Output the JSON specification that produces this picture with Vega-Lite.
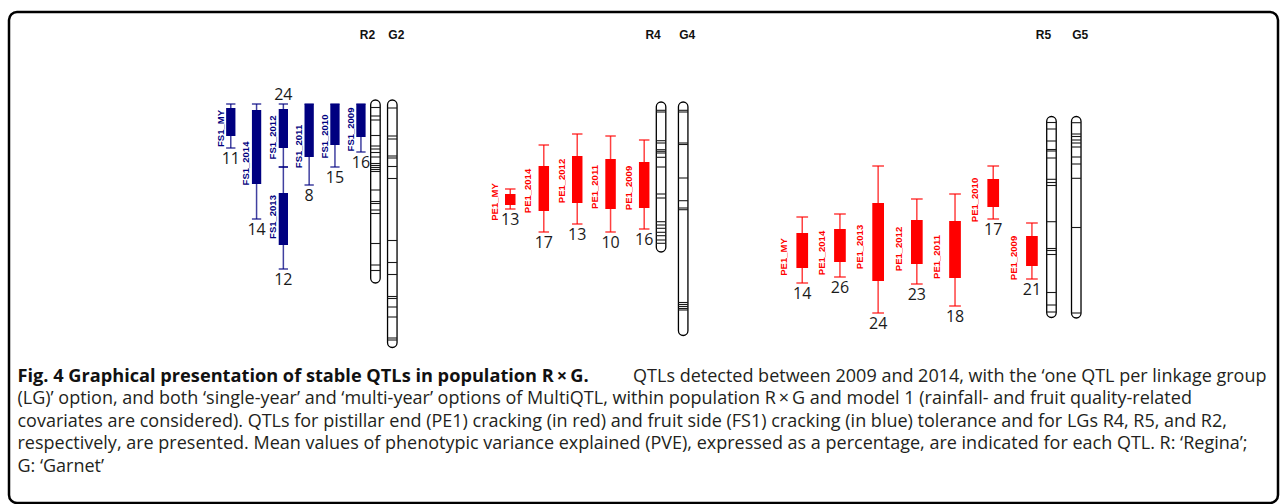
{
  "$schema": "https://vega.github.io/schema/vega-lite/v6.json",
  "width": 1281,
  "height": 504,
  "autosize": {"type": "fit", "contains": "padding"},
  "padding": {"left": 9, "top": 12, "right": 3, "bottom": 1},
  "background": "white",
  "config": {
    "view": {"stroke": "black", "strokeWidth": 2.5, "cornerRadius": 8},
    "axis": {"disable": true}
  },
  "datasets": {
    "qtl": [
      {"name": "FS1_MY", "trait": "FS1", "lg": "R2", "x": 227.5, "lod1_lo": 4, "lod1_hi": 18, "lod2_lo": 2, "lod2_hi": 24, "peak": 14.25, "pve": "11", "side": "bottom"},
      {"name": "FS1_2014", "trait": "FS1", "lg": "R2", "x": 253.5, "lod1_lo": 5, "lod1_hi": 42, "lod2_lo": 2, "lod2_hi": 59.5, "peak": 31.75, "pve": "14", "side": "bottom"},
      {"name": "FS1_2012", "trait": "FS1", "lg": "R2", "x": 280.5, "lod1_lo": 4.5, "lod1_hi": 24, "lod2_lo": 2, "lod2_hi": 33.5, "peak": 18.75, "pve": "24", "side": "top"},
      {"name": "FS1_2013", "trait": "FS1", "lg": "R2", "x": 280.5, "lod1_lo": 46.5, "lod1_hi": 72.5, "lod2_lo": 33.5, "lod2_hi": 84.5, "peak": 58.5, "pve": "12", "side": "bottom"},
      {"name": "FS1_2011", "trait": "FS1", "lg": "R2", "x": 306.5, "lod1_lo": 2, "lod1_hi": 28.5, "lod2_lo": 2, "lod2_hi": 42.5, "peak": 23.25, "pve": "8", "side": "bottom"},
      {"name": "FS1_2010", "trait": "FS1", "lg": "R2", "x": 332.5, "lod1_lo": 2, "lod1_hi": 22.5, "lod2_lo": 2, "lod2_hi": 33.5, "peak": 18.25, "pve": "15", "side": "bottom"},
      {"name": "FS1_2009", "trait": "FS1", "lg": "R2", "x": 358.7, "lod1_lo": 2, "lod1_hi": 18.5, "lod2_lo": 2, "lod2_hi": 26, "peak": 14.75, "pve": "16", "side": "bottom"},
      {"name": "PE1_MY", "trait": "PE1", "lg": "R4", "x": 509.2, "lod1_lo": 47, "lod1_hi": 52.5, "lod2_lo": 44.5, "lod2_hi": 54.5, "peak": 51, "pve": "13", "side": "bottom"},
      {"name": "PE1_2014", "trait": "PE1", "lg": "R4", "x": 543, "lod1_lo": 33, "lod1_hi": 55.5, "lod2_lo": 22.5, "lod2_hi": 66, "peak": 45.5, "pve": "17", "side": "bottom"},
      {"name": "PE1_2012", "trait": "PE1", "lg": "R4", "x": 576.7, "lod1_lo": 28, "lod1_hi": 51.5, "lod2_lo": 17, "lod2_hi": 62, "peak": 40.5, "pve": "13", "side": "bottom"},
      {"name": "PE1_2011", "trait": "PE1", "lg": "R4", "x": 610.3, "lod1_lo": 29.5, "lod1_hi": 54.5, "lod2_lo": 18, "lod2_hi": 66, "peak": 43.5, "pve": "10", "side": "bottom"},
      {"name": "PE1_2009", "trait": "PE1", "lg": "R4", "x": 644.2, "lod1_lo": 31, "lod1_hi": 54, "lod2_lo": 20, "lod2_hi": 64.5, "peak": 44, "pve": "16", "side": "bottom"},
      {"name": "PE1_MY", "trait": "PE1", "lg": "R5", "x": 803.5, "lod1_lo": 66.5, "lod1_hi": 84, "lod2_lo": 58.5, "lod2_hi": 91.5, "peak": 78.5, "pve": "14", "side": "bottom"},
      {"name": "PE1_2014", "trait": "PE1", "lg": "R5", "x": 841.5, "lod1_lo": 64.5, "lod1_hi": 81, "lod2_lo": 57, "lod2_hi": 88.5, "peak": 76.5, "pve": "26", "side": "bottom"},
      {"name": "PE1_2013", "trait": "PE1", "lg": "R5", "x": 880, "lod1_lo": 51.5, "lod1_hi": 90.5, "lod2_lo": 33, "lod2_hi": 106.5, "peak": 73.5, "pve": "24", "side": "bottom"},
      {"name": "PE1_2012", "trait": "PE1", "lg": "R5", "x": 919, "lod1_lo": 60, "lod1_hi": 82, "lod2_lo": 49.5, "lod2_hi": 92, "peak": 74.5, "pve": "23", "side": "bottom"},
      {"name": "PE1_2011", "trait": "PE1", "lg": "R5", "x": 957.5, "lod1_lo": 60.5, "lod1_hi": 89, "lod2_lo": 47, "lod2_hi": 103, "peak": 78.5, "pve": "18", "side": "bottom"},
      {"name": "PE1_2010", "trait": "PE1", "lg": "R5", "x": 996, "lod1_lo": 39.5, "lod1_hi": 53.5, "lod2_lo": 33, "lod2_hi": 59.5, "peak": 50, "pve": "17", "side": "bottom"},
      {"name": "PE1_2009", "trait": "PE1", "lg": "R5", "x": 1035, "lod1_lo": 68, "lod1_hi": 83, "lod2_lo": 61.5, "lod2_hi": 89.5, "peak": 79, "pve": "21", "side": "bottom"}
    ],
    "chrom": [
      {"chr": "R2", "parent": "R", "x": 373.3, "top": 0, "bottom": 91.5},
      {"chr": "G2", "parent": "G", "x": 390.3, "top": 0, "bottom": 123.75},
      {"chr": "R4", "parent": "R", "x": 661.2, "top": 1, "bottom": 76},
      {"chr": "G4", "parent": "G", "x": 683.5, "top": 1, "bottom": 117.75},
      {"chr": "R5", "parent": "R", "x": 1054.7, "top": 8.25, "bottom": 108.75},
      {"chr": "G5", "parent": "G", "x": 1079.7, "top": 8.25, "bottom": 109}
    ],
    "bands": [
      {"chr": "R2", "cM": 3.75}, {"chr": "R2", "cM": 8}, {"chr": "R2", "cM": 10}, {"chr": "R2", "cM": 17.75},
      {"chr": "R2", "cM": 23}, {"chr": "R2", "cM": 24.5}, {"chr": "R2", "cM": 26.25}, {"chr": "R2", "cM": 28.5},
      {"chr": "R2", "cM": 31.75}, {"chr": "R2", "cM": 32.75}, {"chr": "R2", "cM": 33.75}, {"chr": "R2", "cM": 34.75},
      {"chr": "R2", "cM": 35.75}, {"chr": "R2", "cM": 45}, {"chr": "R2", "cM": 50.75}, {"chr": "R2", "cM": 51.75},
      {"chr": "R2", "cM": 55}, {"chr": "R2", "cM": 56.75}, {"chr": "R2", "cM": 71.75}, {"chr": "R2", "cM": 82.5},
      {"chr": "R2", "cM": 85.25},
      {"chr": "G2", "cM": 4}, {"chr": "G2", "cM": 18}, {"chr": "G2", "cM": 19.5}, {"chr": "G2", "cM": 28},
      {"chr": "G2", "cM": 29}, {"chr": "G2", "cM": 33.25}, {"chr": "G2", "cM": 39.25}, {"chr": "G2", "cM": 70.25},
      {"chr": "G2", "cM": 81.25}, {"chr": "G2", "cM": 87.25}, {"chr": "G2", "cM": 98.25}, {"chr": "G2", "cM": 99.25},
      {"chr": "G2", "cM": 103.5}, {"chr": "G2", "cM": 108.5}, {"chr": "G2", "cM": 119}, {"chr": "G2", "cM": 120},
      {"chr": "R4", "cM": 5.15}, {"chr": "R4", "cM": 6}, {"chr": "R4", "cM": 20.35}, {"chr": "R4", "cM": 21.5},
      {"chr": "R4", "cM": 24.85}, {"chr": "R4", "cM": 25.65}, {"chr": "R4", "cM": 26.5}, {"chr": "R4", "cM": 28.65},
      {"chr": "R4", "cM": 33.5}, {"chr": "R4", "cM": 47}, {"chr": "R4", "cM": 49}, {"chr": "R4", "cM": 60.85},
      {"chr": "R4", "cM": 62.5}, {"chr": "R4", "cM": 64.15}, {"chr": "R4", "cM": 66.15}, {"chr": "R4", "cM": 67.85},
      {"chr": "R4", "cM": 70}, {"chr": "R4", "cM": 71.65},
      {"chr": "G4", "cM": 5.15}, {"chr": "G4", "cM": 6}, {"chr": "G4", "cM": 21.5}, {"chr": "G4", "cM": 22.25},
      {"chr": "G4", "cM": 39}, {"chr": "G4", "cM": 50.35}, {"chr": "G4", "cM": 54}, {"chr": "G4", "cM": 54.85},
      {"chr": "G4", "cM": 101.25}, {"chr": "G4", "cM": 102.25}, {"chr": "G4", "cM": 103.25}, {"chr": "G4", "cM": 104.25},
      {"chr": "G4", "cM": 105},
      {"chr": "R5", "cM": 11.25}, {"chr": "R5", "cM": 14.5}, {"chr": "R5", "cM": 20.5}, {"chr": "R5", "cM": 24.75},
      {"chr": "R5", "cM": 25.5}, {"chr": "R5", "cM": 29}, {"chr": "R5", "cM": 39.65}, {"chr": "R5", "cM": 41.25},
      {"chr": "R5", "cM": 42.75}, {"chr": "R5", "cM": 60.85}, {"chr": "R5", "cM": 74.25}, {"chr": "R5", "cM": 75.25},
      {"chr": "R5", "cM": 77.25}, {"chr": "R5", "cM": 96.25}, {"chr": "R5", "cM": 102.5}, {"chr": "R5", "cM": 106},
      {"chr": "G5", "cM": 11.35}, {"chr": "G5", "cM": 17}, {"chr": "G5", "cM": 18.25}, {"chr": "G5", "cM": 20},
      {"chr": "G5", "cM": 21.5}, {"chr": "G5", "cM": 23.5}, {"chr": "G5", "cM": 28.5}, {"chr": "G5", "cM": 32},
      {"chr": "G5", "cM": 39.15}, {"chr": "G5", "cM": 63.75}, {"chr": "G5", "cM": 106.5}
    ],
    "caption": [
      {"line": 1, "x": 12.5, "bold": true, "text": "Fig. 4 Graphical presentation of stable QTLs in population R\u2009×\u2009G."},
      {"line": 1, "x": 633, "bold": false, "text": "QTLs detected between 2009 and 2014, with the ‘one QTL per linkage group"},
      {"line": 2, "x": 12.5, "bold": false, "text": "(LG)’ option, and both ‘single-year’ and ‘multi-year’ options of MultiQTL, within population R\u2009×\u2009G and model 1 (rainfall- and fruit quality-related"},
      {"line": 3, "x": 12.5, "bold": false, "text": "covariates are considered). QTLs for pistillar end (PE1) cracking (in red) and fruit side (FS1) cracking (in blue) tolerance and for LGs R4, R5, and R2,"},
      {"line": 4, "x": 12.5, "bold": false, "text": "respectively, are presented. Mean values of phenotypic variance explained (PVE), expressed as a percentage, are indicated for each QTL. R: ‘Regina’;"},
      {"line": 5, "x": 12.5, "bold": false, "text": "G: ‘Garnet’"}
    ]
  },
  "resolve": {"scale": {"y": "independent"}},
  "layer": [
    {
      "resolve": {"scale": {"size": "independent"}},
      "layer": [
        {
          "data": {"name": "chrom"},
          "mark": {"type": "bar", "fill": "white", "stroke": "black", "strokeWidth": 1.3, "cornerRadius": 6.5},
          "encoding": {
            "x": {"field": "x", "type": "quantitative", "scale": {"domain": [9, 1278], "nice": false, "zero": false}, "axis": null},
            "y": {"field": "top", "type": "quantitative", "scale": {"domain": [-44, 201.5], "reverse": true, "nice": false, "zero": false}, "axis": null},
            "y2": {"field": "bottom"},
            "size": {"field": "chr", "type": "ordinal", "scale": {"domain": ["R2", "G2", "R4", "G4", "R5", "G5"], "range": [9.5, 9.5, 11.5, 11.5, 12.5, 12.5]}, "legend": null}
          }
        },
        {
          "data": {"name": "bands"},
          "transform": [{"lookup": "chr", "from": {"data": {"name": "chrom"}, "key": "chr", "fields": ["x"]}}],
          "mark": {"type": "tick", "orient": "horizontal", "thickness": 1.1, "color": "#1a1a1a", "opacity": 1},
          "encoding": {
            "x": {"field": "x", "type": "quantitative", "scale": {"domain": [9, 1278], "nice": false, "zero": false}, "axis": null},
            "y": {"field": "cM", "type": "quantitative", "scale": {"domain": [-44, 201.5], "reverse": true, "nice": false, "zero": false}, "axis": null},
            "size": {"field": "chr", "type": "ordinal", "scale": {"domain": ["R2", "G2", "R4", "G4", "R5", "G5"], "range": [9.5, 9.5, 11.5, 11.5, 12.5, 12.5]}, "legend": null}
          }
        },
        {
          "data": {"name": "qtl"},
          "mark": {"type": "rule", "strokeWidth": 1.5, "opacity": 0.75},
          "encoding": {
            "x": {"field": "x", "type": "quantitative", "scale": {"domain": [9, 1278], "nice": false, "zero": false}, "axis": null},
            "y": {"field": "lod2_lo", "type": "quantitative", "scale": {"domain": [-44, 201.5], "reverse": true, "nice": false, "zero": false}, "axis": null},
            "y2": {"field": "lod2_hi"},
            "color": {"field": "trait", "type": "nominal", "scale": {"domain": ["FS1", "PE1"], "range": ["#000080", "#ff0000"]}, "legend": null}
          }
        },
        {
          "data": {"name": "qtl"},
          "mark": {"type": "tick", "orient": "horizontal", "thickness": 1.5, "opacity": 0.75},
          "encoding": {
            "x": {"field": "x", "type": "quantitative", "scale": {"domain": [9, 1278], "nice": false, "zero": false}, "axis": null},
            "y": {"field": "lod2_lo", "type": "quantitative", "scale": {"domain": [-44, 201.5], "reverse": true, "nice": false, "zero": false}, "axis": null},
            "size": {"field": "lg", "type": "ordinal", "scale": {"domain": ["R2", "R4", "R5"], "range": [9.3, 11.7, 13.3]}, "legend": null},
            "color": {"field": "trait", "type": "nominal", "scale": {"domain": ["FS1", "PE1"], "range": ["#000080", "#ff0000"]}, "legend": null}
          }
        },
        {
          "data": {"name": "qtl"},
          "mark": {"type": "tick", "orient": "horizontal", "thickness": 1.5, "opacity": 0.75},
          "encoding": {
            "x": {"field": "x", "type": "quantitative", "scale": {"domain": [9, 1278], "nice": false, "zero": false}, "axis": null},
            "y": {"field": "lod2_hi", "type": "quantitative", "scale": {"domain": [-44, 201.5], "reverse": true, "nice": false, "zero": false}, "axis": null},
            "size": {"field": "lg", "type": "ordinal", "scale": {"domain": ["R2", "R4", "R5"], "range": [9.3, 11.7, 13.3]}, "legend": null},
            "color": {"field": "trait", "type": "nominal", "scale": {"domain": ["FS1", "PE1"], "range": ["#000080", "#ff0000"]}, "legend": null}
          }
        },
        {
          "data": {"name": "qtl"},
          "mark": {"type": "bar", "opacity": 1},
          "encoding": {
            "x": {"field": "x", "type": "quantitative", "scale": {"domain": [9, 1278], "nice": false, "zero": false}, "axis": null},
            "y": {"field": "lod1_lo", "type": "quantitative", "scale": {"domain": [-44, 201.5], "reverse": true, "nice": false, "zero": false}, "axis": null},
            "y2": {"field": "lod1_hi"},
            "size": {"field": "lg", "type": "ordinal", "scale": {"domain": ["R2", "R4", "R5"], "range": [9.3, 11.7, 13.3]}, "legend": null},
            "color": {"field": "trait", "type": "nominal", "scale": {"domain": ["FS1", "PE1"], "range": ["#000080", "#ff0000"]}, "legend": null}
          }
        },
        {
          "data": {"name": "qtl"},
          "transform": [{"filter": "datum.lg === 'R2'"}],
          "mark": {"type": "text", "angle": 270, "align": "center", "baseline": "alphabetic", "dy": -7.1, "font": "Liberation Sans", "fontWeight": "bold", "fontSize": 9.5},
          "encoding": {
            "x": {"field": "x", "type": "quantitative", "scale": {"domain": [9, 1278], "nice": false, "zero": false}, "axis": null},
            "y": {"field": "peak", "type": "quantitative", "scale": {"domain": [-44, 201.5], "reverse": true, "nice": false, "zero": false}, "axis": null},
            "text": {"field": "name"},
            "color": {"field": "trait", "type": "nominal", "scale": {"domain": ["FS1", "PE1"], "range": ["#000080", "#ff0000"]}, "legend": null}
          }
        },
        {
          "data": {"name": "qtl"},
          "transform": [{"filter": "datum.lg === 'R4'"}],
          "mark": {"type": "text", "angle": 270, "align": "center", "baseline": "alphabetic", "dy": -12.6, "font": "Liberation Sans", "fontWeight": "bold", "fontSize": 9.5},
          "encoding": {
            "x": {"field": "x", "type": "quantitative", "scale": {"domain": [9, 1278], "nice": false, "zero": false}, "axis": null},
            "y": {"field": "peak", "type": "quantitative", "scale": {"domain": [-44, 201.5], "reverse": true, "nice": false, "zero": false}, "axis": null},
            "text": {"field": "name"},
            "color": {"field": "trait", "type": "nominal", "scale": {"domain": ["FS1", "PE1"], "range": ["#000080", "#ff0000"]}, "legend": null}
          }
        },
        {
          "data": {"name": "qtl"},
          "transform": [{"filter": "datum.lg === 'R5'"}],
          "mark": {"type": "text", "angle": 270, "align": "center", "baseline": "alphabetic", "dy": -15.1, "font": "Liberation Sans", "fontWeight": "bold", "fontSize": 9.5},
          "encoding": {
            "x": {"field": "x", "type": "quantitative", "scale": {"domain": [9, 1278], "nice": false, "zero": false}, "axis": null},
            "y": {"field": "peak", "type": "quantitative", "scale": {"domain": [-44, 201.5], "reverse": true, "nice": false, "zero": false}, "axis": null},
            "text": {"field": "name"},
            "color": {"field": "trait", "type": "nominal", "scale": {"domain": ["FS1", "PE1"], "range": ["#000080", "#ff0000"]}, "legend": null}
          }
        },
        {
          "data": {"name": "qtl"},
          "transform": [{"filter": "datum.side === 'bottom'"}],
          "mark": {"type": "text", "align": "center", "baseline": "middle", "dy": 11, "font": "Open Sans", "fontSize": 16, "color": "#1a1a1a"},
          "encoding": {
            "x": {"field": "x", "type": "quantitative", "scale": {"domain": [9, 1278], "nice": false, "zero": false}, "axis": null},
            "y": {"field": "lod2_hi", "type": "quantitative", "scale": {"domain": [-44, 201.5], "reverse": true, "nice": false, "zero": false}, "axis": null},
            "text": {"field": "pve"}
          }
        },
        {
          "data": {"name": "qtl"},
          "transform": [{"filter": "datum.side === 'top'"}],
          "mark": {"type": "text", "align": "center", "baseline": "middle", "dy": -9, "font": "Open Sans", "fontSize": 16, "color": "#1a1a1a"},
          "encoding": {
            "x": {"field": "x", "type": "quantitative", "scale": {"domain": [9, 1278], "nice": false, "zero": false}, "axis": null},
            "y": {"field": "lod2_lo", "type": "quantitative", "scale": {"domain": [-44, 201.5], "reverse": true, "nice": false, "zero": false}, "axis": null},
            "text": {"field": "pve"}
          }
        },
        {
          "data": {"name": "chrom"},
          "transform": [{"filter": "datum.parent === 'R'"}],
          "mark": {"type": "text", "align": "center", "baseline": "middle", "dx": -8, "font": "Liberation Sans", "fontWeight": "bold", "fontSize": 12, "color": "#111111"},
          "encoding": {
            "x": {"field": "x", "type": "quantitative", "scale": {"domain": [9, 1278], "nice": false, "zero": false}, "axis": null},
            "y": {"datum": -32.5, "type": "quantitative", "scale": {"domain": [-44, 201.5], "reverse": true, "nice": false, "zero": false}, "axis": null},
            "text": {"field": "chr"}
          }
        },
        {
          "data": {"name": "chrom"},
          "transform": [{"filter": "datum.parent === 'G'"}],
          "mark": {"type": "text", "align": "center", "baseline": "middle", "dx": 4, "font": "Liberation Sans", "fontWeight": "bold", "fontSize": 12, "color": "#111111"},
          "encoding": {
            "x": {"field": "x", "type": "quantitative", "scale": {"domain": [9, 1278], "nice": false, "zero": false}, "axis": null},
            "y": {"datum": -32.5, "type": "quantitative", "scale": {"domain": [-44, 201.5], "reverse": true, "nice": false, "zero": false}, "axis": null},
            "text": {"field": "chr"}
          }
        }
      ]
    },
    {
      "data": {"name": "caption"},
      "layer": [
        {
          "transform": [{"filter": "datum.bold"}],
          "mark": {"type": "text", "align": "left", "baseline": "middle", "font": "Open Sans", "fontWeight": "bold", "fontSize": 18.2, "color": "#111111"},
          "encoding": {
            "x": {"field": "x", "type": "quantitative", "scale": {"domain": [9, 1278], "nice": false, "zero": false}, "axis": null},
            "y": {"field": "line", "type": "quantitative", "scale": {"domain": [-15.222, 6.6], "reverse": true, "nice": false, "zero": false}, "axis": null},
            "text": {"field": "text"}
          }
        },
        {
          "transform": [{"filter": "!datum.bold"}],
          "mark": {"type": "text", "align": "left", "baseline": "middle", "font": "Open Sans", "fontSize": 18, "color": "#231f20"},
          "encoding": {
            "x": {"field": "x", "type": "quantitative", "scale": {"domain": [9, 1278], "nice": false, "zero": false}, "axis": null},
            "y": {"field": "line", "type": "quantitative", "scale": {"domain": [-15.222, 6.6], "reverse": true, "nice": false, "zero": false}, "axis": null},
            "text": {"field": "text"}
          }
        }
      ]
    }
  ]
}
